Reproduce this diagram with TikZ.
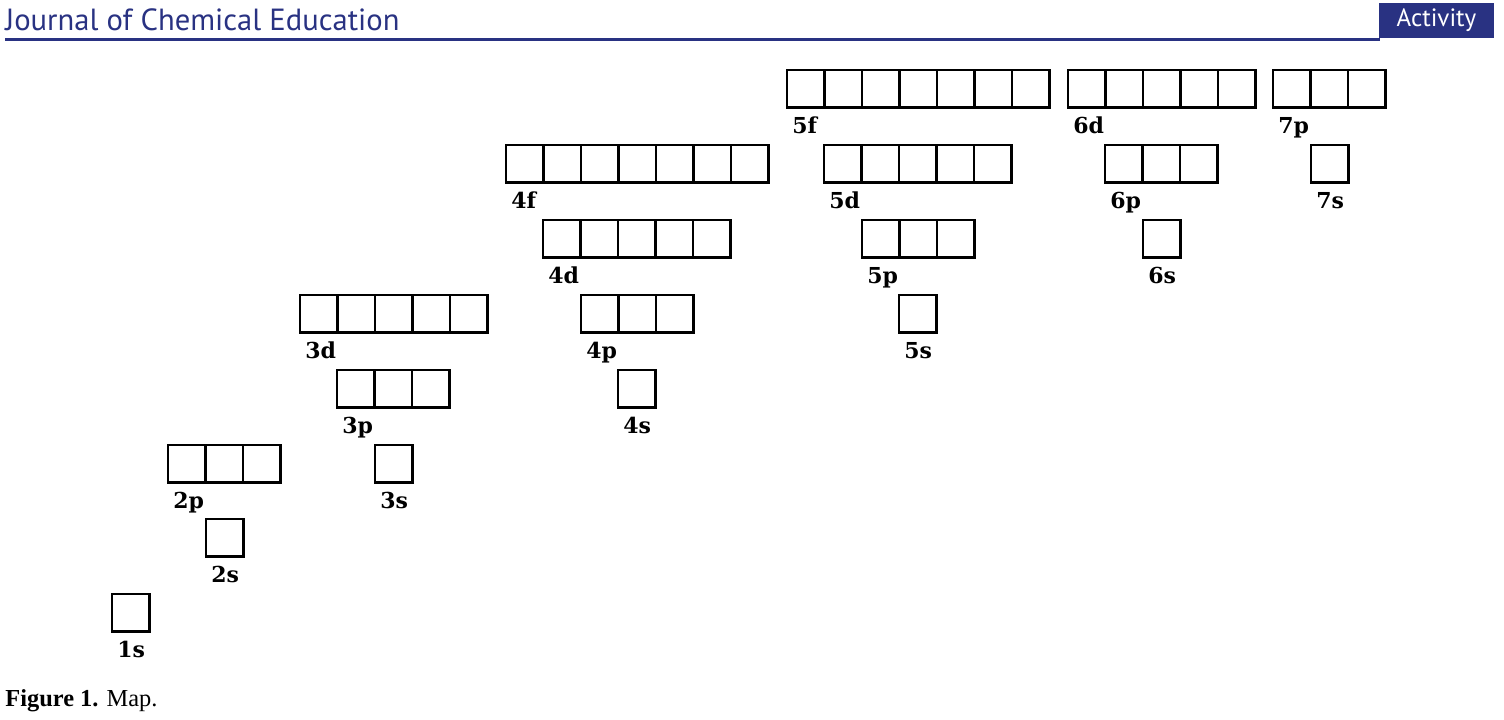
\documentclass[tikz,border=0pt]{standalone}
\usepackage{fontspec}
\setmainfont{Liberation Serif}
\newfontfamily\headfont{PT Sans}
\newfontfamily\orbfont{DejaVu Serif}
\definecolor{jcsblue}{RGB}{41,50,130}

\begin{document}
\begin{tikzpicture}[x=0.5pt,y=-0.5pt,
    orb/.style={draw,line width=1.4pt,minimum size=18.75pt,inner sep=0pt,outer sep=0pt},
    lbl/.style={anchor=base west,inner sep=0pt,
      font=\orbfont\bfseries\fontsize{11}{13}\selectfont}]
  \useasboundingbox (0,0) rectangle (1504,719);
  \node[anchor=base west,inner sep=0pt,text=jcsblue,
    font=\headfont\fontsize{15.3}{17}\selectfont] (journal) at (5,30)
    {Journal of Chemical Education};
  \draw[jcsblue,line width=1.5pt] (5,39) -- (1380,39);
  \node[fill=jcsblue,text=white,inner sep=0pt,
    minimum width=57.5pt,minimum height=17.5pt,
    font=\headfont\fontsize{12.5}{14}\selectfont] (activity) at (1436.5,20.5) {Activity};
  \foreach \o/\x/\y/\n in {1s/112/594/1,2s/206/519/1,2p/168/445/3,
      3s/375/445/1,3p/337/370/3,3d/300/295/5,
      4s/618/370/1,4p/581/295/3,4d/543/220/5,4f/506/145/7,
      5s/899/295/1,5p/862/220/3,5d/824/145/5,5f/787/70/7,
      6s/1143/220/1,6p/1105/145/3,6d/1068/70/5,
      7s/1311/145/1,7p/1273/70/3}{
    \foreach \k in {1,...,\n}
      \node[orb] (\o-\k) at (\x+37.5*\k-18.75,\y+18.75) {};
    \node[lbl] (\o) at (\x+5,\y+63) {\o};
  }
  \node[anchor=base west,inner sep=0pt,font=\fontsize{12.2}{14}\selectfont]
    (caption) at (5,706) {\textbf{Figure 1.} Map.};
\end{tikzpicture}
\end{document}
